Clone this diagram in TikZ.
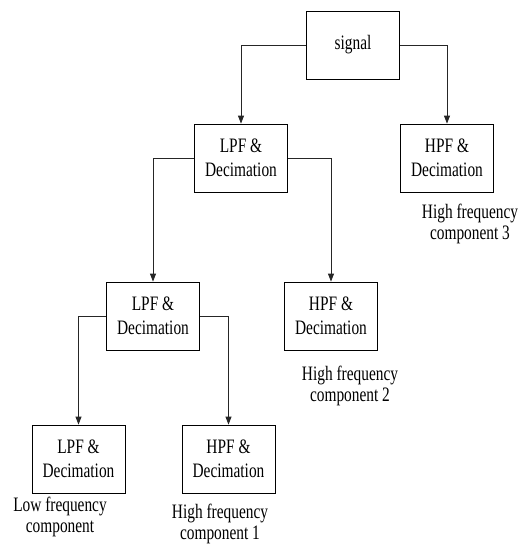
\documentclass[tikz,border=0pt]{standalone}
\usepackage{fontspec}
\setmainfont{Liberation Serif}[FakeStretch=0.75]
\usetikzlibrary{arrows.meta}
\begin{document}
\begin{tikzpicture}[x=1pt,y=-1pt,
  blockbox/.style={draw=black, line width=0.8pt, minimum width=93pt, minimum height=68pt, inner sep=0pt, align=center, font=\fontsize{20.5}{24}\selectfont},
  lbl/.style={align=center, inner sep=0pt, font=\fontsize{20.5}{21}\selectfont},
  arr/.style={draw=black!85, line width=0.8pt, -{Triangle[length=8pt,width=6pt]}}]
\useasboundingbox (0,0) rectangle (519,544);
\node[blockbox] (signal) at (353,45) {signal};
\node[blockbox] (lpf1) at (241,158) {LPF \&\\Decimation};
\node[blockbox] (hpf3) at (447,158) {HPF \&\\Decimation};
\node[blockbox] (lpf2) at (153,316) {LPF \&\\Decimation};
\node[blockbox] (hpf2) at (331,316) {HPF \&\\Decimation};
\node[blockbox] (lpf3) at (78.5,459) {LPF \&\\Decimation};
\node[blockbox] (hpf1) at (228.5,459) {HPF \&\\Decimation};
\node[lbl] (l3) at (470,224) {High frequency\\component 3};
\node[lbl] (l2) at (350,386) {High frequency\\component 2};
\node[lbl] (l0) at (60,517) {Low frequency\\component};
\node[lbl] (l1) at (220,524) {High frequency\\component 1};
\draw[arr] (signal.west) -| (lpf1.north);
\draw[arr] (signal.east) -| (hpf3.north);
\draw[arr] (lpf1.west) -| (lpf2.north);
\draw[arr] (lpf1.east) -| (hpf2.north);
\draw[arr] (lpf2.west) -| (lpf3.north);
\draw[arr] (lpf2.east) -| (hpf1.north);
\end{tikzpicture}
\end{document}
